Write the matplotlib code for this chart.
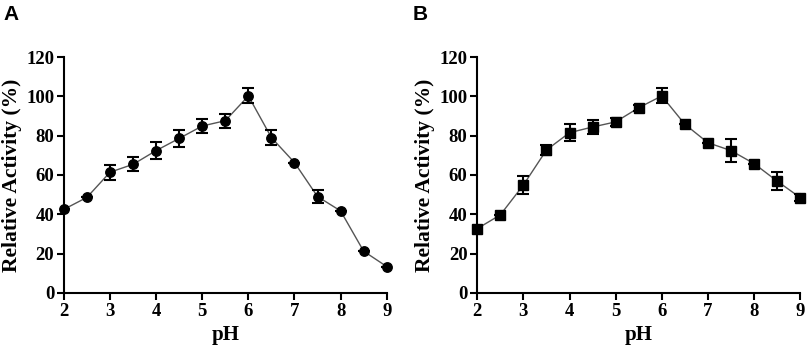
import matplotlib
matplotlib.use("Agg")
import matplotlib.pyplot as plt

ph = [2, 2.5, 3, 3.5, 4, 4.5, 5, 5.5, 6, 6.5, 7, 7.5, 8, 8.5, 9]
act_a = [42.5, 48.6, 61.4, 65.4, 72.4, 78.6, 84.9, 87.6, 100.2, 79.0, 66.3, 49.0, 41.7, 21.2, 13.4]
err_a = [0, 0, 3.8, 3.5, 4.2, 4.2, 3.5, 3.5, 3.8, 4.0, 0, 3.5, 0, 0, 0]
act_b = [32.7, 39.7, 54.9, 72.7, 81.5, 84.4, 87.0, 94.2, 100.2, 85.8, 76.4, 72.4, 65.8, 56.9, 48.5]
err_b = [0, 0, 4.5, 2.5, 4.2, 3.5, 2.0, 1.5, 3.8, 0, 0, 6.0, 0, 4.5, 2.0]
yticks = [0, 20, 40, 60, 80, 100, 120]
xticks = [2, 3, 4, 5, 6, 7, 8, 9]

serif = ["Liberation Serif", "DejaVu Serif"]
fig = plt.figure(figsize=(8.09, 3.52), dpi=100)

def panel(rect, y, e, marker, label, lx):
    ax = fig.add_axes(rect)
    ax.plot(ph, y, color="#555555", lw=1.0, zorder=2)
    ax.errorbar(ph, y, yerr=e, fmt="none", ecolor="black", elinewidth=1.5,
                capsize=4, capthick=1.5, zorder=3)
    ax.plot(ph, y, linestyle="none", marker=marker, color="black",
            markersize=6.8, zorder=4, clip_on=False)
    ax.set_xlim(2, 9)
    ax.set_ylim(0, 120)
    ax.set_xticks(xticks)
    ax.set_yticks(yticks)
    for s in ["top", "right"]:
        ax.spines[s].set_visible(False)
    for s in ["left", "bottom"]:
        ax.spines[s].set_linewidth(1.5)
        ax.spines[s].set_color("black")
    ax.tick_params(direction="out", length=5, width=1.5, pad=2)
    for t in ax.get_xticklabels() + ax.get_yticklabels():
        t.set_fontfamily(serif)
        t.set_fontweight("bold")
        t.set_fontsize(13.5)
    ax.set_xlabel("pH", fontfamily=serif, fontweight="bold", fontsize=15, labelpad=4)
    ax.set_ylabel("Relative Activity (%)", fontfamily=serif, fontweight="bold",
                  fontsize=15.5, labelpad=3)
    fig.text(lx, 0.985, label, fontfamily=["Liberation Sans", "DejaVu Sans"],
             fontweight="bold", fontsize=15, va="top", ha="left")
    return ax

panel([0.079, 0.168, 0.399, 0.670], act_a, err_a, "o", "A", 0.004)
panel([0.590, 0.168, 0.399, 0.670], act_b, err_b, "s", "B", 0.510)

fig.savefig("out.png", dpi=100)
